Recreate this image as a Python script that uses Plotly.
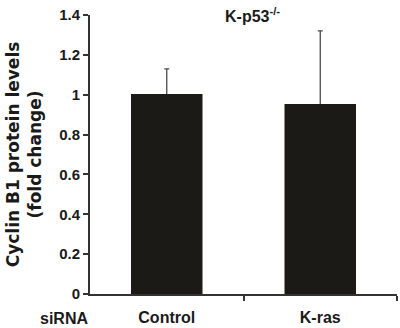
import plotly.graph_objects as go

categories = ["Control", "K-ras"]
values = [1.0, 0.95]
errors_up = [0.13, 0.37]
y_ticks = [0, 0.2, 0.4, 0.6, 0.8, 1, 1.2, 1.4]
y_tick_labels = ["0", "0.2", "0.4", "0.6", "0.8", "1", "1.2", "1.4"]

x_pos = [0.5, 1.5]

font_family = "Liberation Sans, Arial, sans-serif"
bar_color = "#1c1a17"

fig = go.Figure()
# invisible bars carrying the (upper-only) error bars, drawn first
fig.add_trace(go.Bar(
    x=x_pos, y=values, width=0.456,
    marker=dict(color="rgba(0,0,0,0)", line=dict(width=0)),
    error_y=dict(type="data", array=errors_up, arrayminus=[0, 0], symmetric=False,
                 color="#4a4a4a", thickness=1.3, width=2.5),
    hoverinfo="skip",
))
# visible bars on top
fig.add_trace(go.Bar(
    x=x_pos, y=values, width=0.456,
    marker=dict(color=bar_color, line=dict(width=1.5, color=bar_color)),
))

fig.update_layout(
    width=400, height=328,
    barmode="overlay",
    margin=dict(l=90, r=3, t=15, b=34),
    paper_bgcolor="white", plot_bgcolor="white",
    showlegend=False,
    font=dict(family=font_family, color="#1a1a1a"),
    xaxis=dict(
        range=[0, 2], tickvals=x_pos, ticktext=["<b>%s</b>" % c for c in categories],
        ticks="", showline=True, linecolor="#333333", linewidth=2,
        showgrid=False, zeroline=False, tickfont=dict(size=16, color="#1a1a1a"),
        ticklabelstandoff=8,
        minor=dict(tickvals=[1, 2], ticks="outside", ticklen=5, tickwidth=2, tickcolor="#333333"),
    ),
    yaxis=dict(
        range=[0, 1.4], tickvals=y_ticks, ticktext=["<b>%s</b>" % t for t in y_tick_labels],
        ticks="outside", ticklen=5, tickwidth=2, tickcolor="#333333",
        showline=True, linecolor="#333333", linewidth=2,
        showgrid=False, zeroline=False, tickfont=dict(size=15, color="#1a1a1a"),
        title=dict(text="<b>Cyclin B1 protein levels<br>(fold change)</b>",
                   font=dict(size=17, color="#1a1a1a", family="DejaVu Sans, sans-serif"),
                   standoff=13),
    ),
)

fig.add_annotation(text="<b>K-p53<sup>-/-</sup></b>", xref="paper", yref="paper",
                   x=0.5, y=1.0, xanchor="center", yanchor="middle", xshift=9,
                   showarrow=False, font=dict(size=16, color="#1a1a1a"))
fig.add_annotation(text="<b>siRNA</b>", xref="paper", yref="paper",
                   x=0, y=0, xanchor="right", yanchor="top", yshift=-14, xshift=0,
                   showarrow=False, font=dict(size=16, color="#1a1a1a"))

fig.write_html("out.html", config={"displayModeBar": False},
               post_script="document.body.style.margin='0';document.body.style.padding='0';")
